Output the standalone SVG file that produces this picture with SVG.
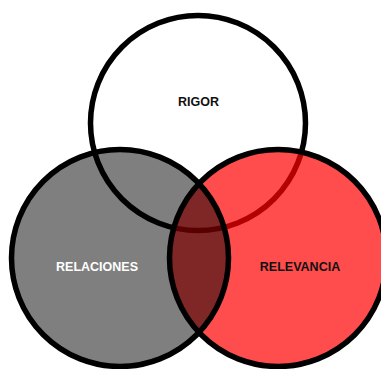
<svg xmlns="http://www.w3.org/2000/svg" width="381" height="369" viewBox="0 0 381 369">
<style>
.c{stroke:#000;stroke-width:5.5}
.t{font-family:"Liberation Sans",Arial,sans-serif;font-weight:bold;font-size:12.5px;text-anchor:middle}
</style>
<rect width="381" height="369" fill="#fff"/>
<g id="rigor">
<circle class="c" cx="198" cy="123" r="107.5" fill="#fff"/>
</g>
<g id="relevancia">
<circle class="c" cx="278" cy="258" r="108.5" fill="#ff0000" fill-opacity="0.7"/>
</g>
<g id="relaciones">
<circle class="c" cx="120" cy="258" r="108.5" fill="#000" fill-opacity="0.5"/>
</g>
<g id="labels">
<text class="t" x="198.5" y="106" fill="#111">RIGOR</text>
<text class="t" x="97" y="271" fill="#fff">RELACIONES</text>
<text class="t" x="300" y="271" fill="#111">RELEVANCIA</text>
</g>
</svg>
